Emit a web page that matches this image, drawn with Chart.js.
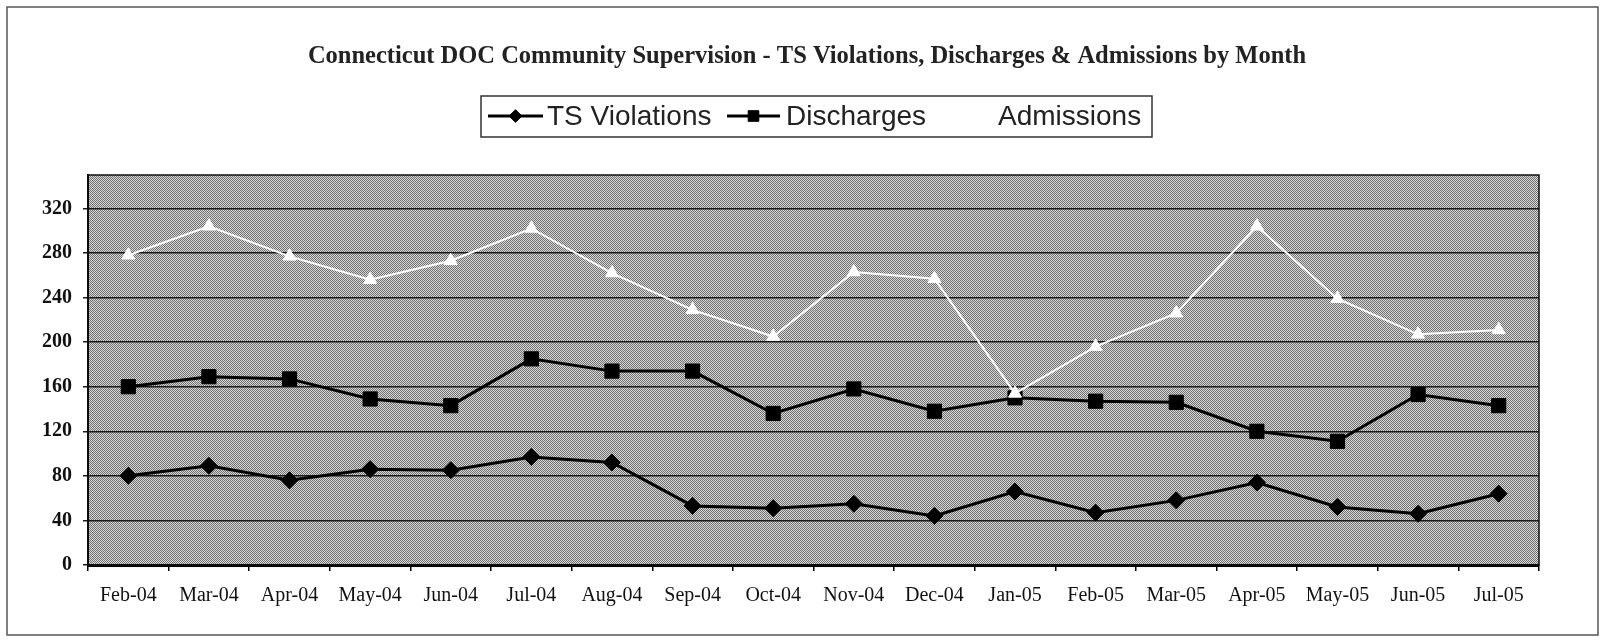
<!DOCTYPE html>
<html><head><meta charset="utf-8">
<script src="https://cdn.jsdelivr.net/npm/chart.js@4.4.1/dist/chart.umd.min.js"></script>
<style>html,body{margin:0;padding:0;background:#fff;}#wrap{width:1610px;height:643px;position:relative;}</style>
</head><body><div id="wrap"><canvas id="c" width="1610" height="643"></canvas></div>
<script>
const titleText = 'Connecticut DOC Community Supervision - TS Violations, Discharges & Admissions by Month';
const months = ['Feb-04','Mar-04','Apr-04','May-04','Jun-04','Jul-04','Aug-04','Sep-04','Oct-04','Nov-04','Dec-04','Jan-05','Feb-05','Mar-05','Apr-05','May-05','Jun-05','Jul-05'];
const tsViolations = [80, 89, 76, 86, 85, 97, 92, 53, 51, 55, 44, 66, 47, 58, 74, 52, 46, 64];
const discharges = [160, 169, 167, 149, 143, 185, 174, 174, 136, 158, 138, 150, 147, 146, 120, 111, 153, 143];
const admissions = [278, 304, 277, 256, 273, 302, 262, 229, 205, 263, 257, 154, 196, 226, 304, 239, 207, 211];
const yTickValues = [0, 40, 80, 120, 160, 200, 240, 280, 320];
const seriesNames = ['TS Violations', 'Discharges', 'Admissions'];

const serif = '"Liberation Serif", "Times New Roman", serif';
const sans = '"Liberation Sans", Arial, sans-serif';

// dithered grey plot background
const pc = document.createElement('canvas'); pc.width = 4; pc.height = 4;
const pctx = pc.getContext('2d');
pctx.fillStyle = '#d8d8d8'; pctx.fillRect(0, 0, 4, 4);
pctx.fillStyle = '#707070';
for (let yy = 0; yy < 4; yy++) for (let xx = 0; xx < 4; xx++) if ((xx + yy) % 2 === 0) pctx.fillRect(xx, yy, 1, 1);

function marker(ctx, style, x, y, r, fill) {
  ctx.save();
  ctx.fillStyle = fill; ctx.strokeStyle = fill; ctx.lineWidth = 1;
  ctx.beginPath();
  if (style === 'rectRot') {
    ctx.moveTo(x, y - r); ctx.lineTo(x + r, y); ctx.lineTo(x, y + r); ctx.lineTo(x - r, y); ctx.closePath();
  } else if (style === 'rect') {
    const s = r * Math.SQRT1_2; ctx.rect(x - s, y - s, 2 * s, 2 * s);
  } else if (style === 'triangle') {
    for (let k = 0; k < 3; k++) { const a = k * 2 * Math.PI / 3; const px = x + Math.sin(a) * r, py = y - Math.cos(a) * r; k ? ctx.lineTo(px, py) : ctx.moveTo(px, py); }
    ctx.closePath();
  }
  ctx.fill(); ctx.stroke();
  ctx.restore();
}

const decor = {
  id: 'decor',
  beforeDraw(chart) {
    const { ctx, chartArea: a } = chart;
    ctx.save();
    ctx.fillStyle = '#fff'; ctx.fillRect(0, 0, chart.width, chart.height);
    ctx.fillStyle = ctx.createPattern(pc, 'repeat');
    ctx.fillRect(a.left, a.top, a.right - a.left, a.bottom - a.top);
    ctx.restore();
  },
  beforeDatasetsDraw(chart) {
    const { ctx, chartArea: a } = chart;
    ctx.save();
    ctx.strokeStyle = '#111'; ctx.lineWidth = 1.5;
    ctx.strokeRect(a.left, a.top, a.right - a.left, a.bottom - a.top);
    ctx.restore();
  },
  afterDraw(chart) {
    const ctx = chart.ctx;
    ctx.save();
    // outer frame
    ctx.strokeStyle = '#555'; ctx.lineWidth = 1.5;
    ctx.strokeRect(7, 7, 1591, 628);
    // title
    ctx.fillStyle = '#222';
    ctx.font = 'bold 24.5px ' + serif;
    ctx.textAlign = 'center'; ctx.textBaseline = 'middle';
    ctx.fillText(titleText, 807, 57);
    // legend
    ctx.strokeStyle = '#333'; ctx.lineWidth = 1.5;
    ctx.strokeRect(481, 96, 671, 41);
    const items = [
      { x0: 488, x1: 543, tx: 547 },
      { x0: 727, x1: 780, tx: 786 },
      { x0: 940, x1: 992, tx: 998 }
    ];
    const ly = 116;
    chart.data.datasets.slice().sort((p, q) => seriesNames.indexOf(p.label) - seriesNames.indexOf(q.label)).forEach((ds, i) => {
      const it = items[i];
      ctx.strokeStyle = ds.borderColor; ctx.lineWidth = ds.borderWidth;
      ctx.beginPath(); ctx.moveTo(it.x0, ly); ctx.lineTo(it.x1, ly); ctx.stroke();
      marker(ctx, ds.pointStyle, (it.x0 + it.x1) / 2, ly, ds.pointRadius * 0.75, ds.backgroundColor);
      ctx.fillStyle = '#222';
      ctx.font = '28px ' + sans;
      ctx.textAlign = 'left'; ctx.textBaseline = 'middle';
      ctx.fillText(ds.label, it.tx, ly + 1);
    });
    ctx.restore();
  }
};

new Chart(document.getElementById('c'), {
  type: 'line',
  data: {
    labels: months,
    datasets: [
      { label: seriesNames[2], data: admissions, borderColor: '#ffffff', backgroundColor: '#ffffff', borderWidth: 2, pointStyle: 'triangle', pointRadius: 7.5, pointBorderWidth: 1, pointBorderColor: '#ffffff', order: 0, tension: 0 },
      { label: seriesNames[1], data: discharges, borderColor: '#000000', backgroundColor: '#000000', borderWidth: 3, pointStyle: 'rect', pointRadius: 10, pointBorderWidth: 1, pointBorderColor: '#000000', order: 1, tension: 0 },
      { label: seriesNames[0], data: tsViolations, borderColor: '#000000', backgroundColor: '#000000', borderWidth: 3, pointStyle: 'rectRot', pointRadius: 8.5, pointBorderWidth: 1, pointBorderColor: '#000000', order: 2, tension: 0 }
    ]
  },
  options: {
    responsive: false,
    animation: false,
    layout: { padding: { left: 0, right: 71, top: 175, bottom: 0 } },
    plugins: { legend: { display: false }, title: { display: false }, tooltip: { enabled: false } },
    scales: {
      x: {
        offset: true,
        afterFit: s => { s.height = 78; },
        ticks: { padding: 13, color: '#111', maxRotation: 0, autoSkip: false, font: { family: serif, size: 20 } },
        grid: { display: true, drawOnChartArea: false, drawTicks: true, tickLength: 6, color: '#000', lineWidth: 1.5, offset: true },
        border: { display: true, color: '#000', width: 3 }
      },
      y: {
        min: 0, max: 350,
        afterBuildTicks: s => { s.ticks = yTickValues.map(v => ({ value: v })); },
        afterFit: s => { s.width = 88; },
        ticks: { padding: 11, color: '#111', font: { family: serif, size: 20, weight: 'bold' } },
        grid: { color: '#1a1a1a', lineWidth: 1.5, tickLength: 5, drawTicks: true },
        border: { display: true, color: '#000', width: 2 }
      }
    }
  },
  plugins: [decor]
});
</script></body></html>
